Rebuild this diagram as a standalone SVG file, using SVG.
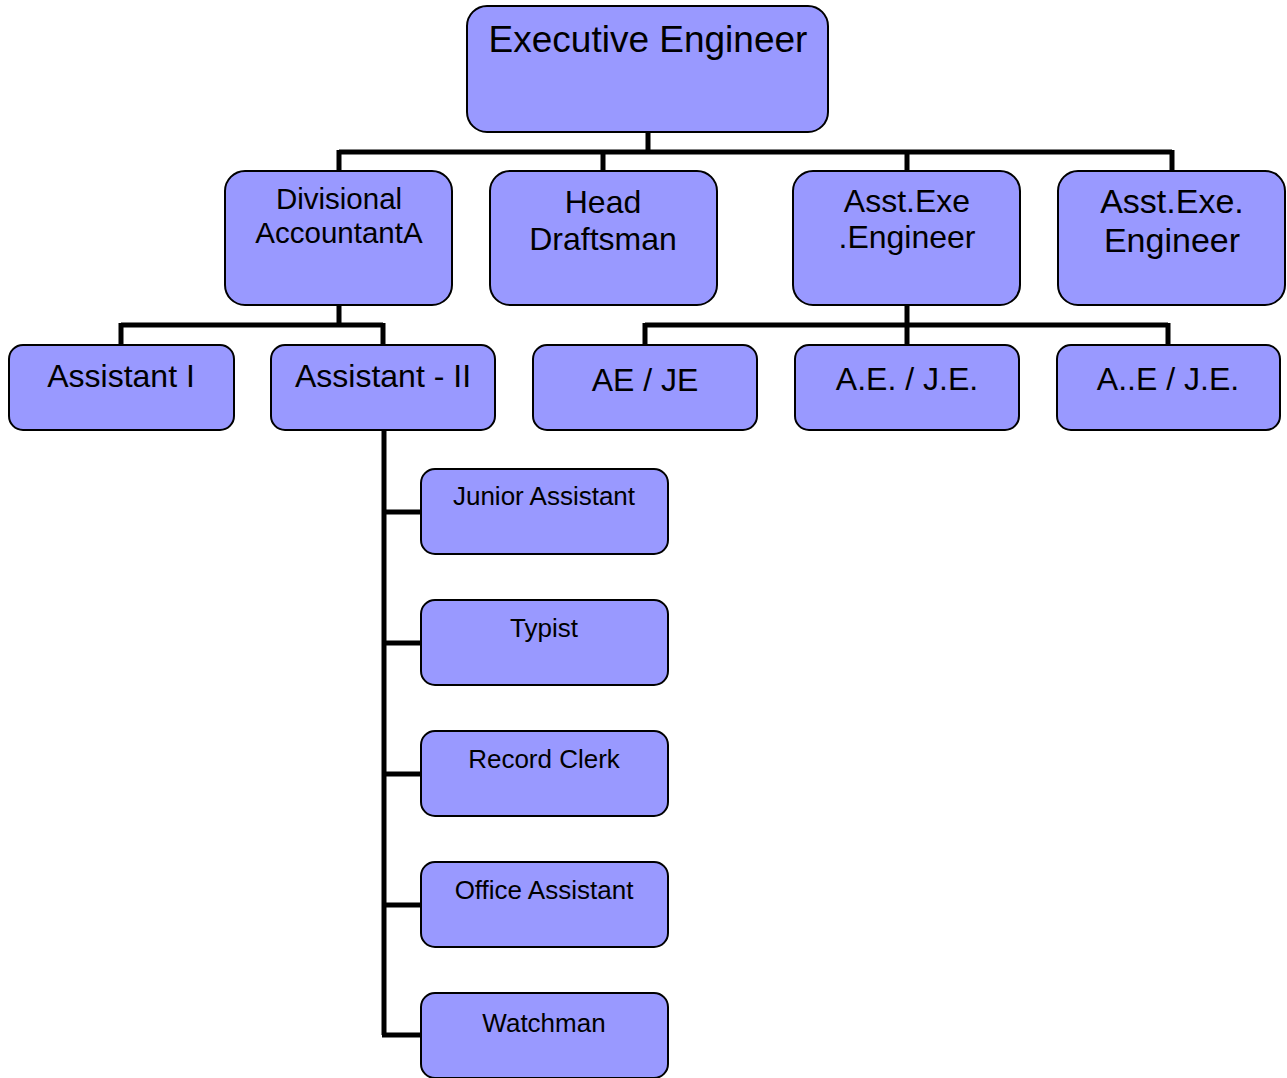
<svg xmlns="http://www.w3.org/2000/svg" width="1287" height="1078" viewBox="0 0 1287 1078">
<style>
.box{fill:#9999FF;stroke:#000;stroke-width:2}
.t{font-family:"Liberation Sans",Arial,sans-serif;fill:#000;text-anchor:middle}
.c{fill:none;stroke:#000;stroke-width:5}
</style>
<rect width="1287" height="1078" fill="#fff"/>
<g id="connectors">
<path class="c" d="M648 132V152M339 152H1172M339 150V171M603 150V171M907 150V171M1172 150V171"/>
<path class="c" d="M339 305V325M121 325H383M121 323V345M383 323V345"/>
<path class="c" d="M907 305V325M645 325H1168M645 323V345M907 323V345M1168 323V345"/>
<path class="c" d="M384 430V1035M382 512H421M382 643H421M382 774H421M382 905H421M382 1035H421"/>
</g>
<g id="exec"><rect class="box" x="467" y="6" width="361" height="126" rx="20"/><text class="t" x="648" y="52" font-size="37">Executive Engineer</text></g>
<g id="divacc"><rect class="box" x="225" y="171" width="227" height="134" rx="20"/><text class="t" x="339" y="209" font-size="29.5">Divisional</text><text class="t" x="339" y="243" font-size="29.5">AccountantA</text></g>
<g id="headdraft"><rect class="box" x="490" y="171" width="227" height="134" rx="20"/><text class="t" x="603" y="213" font-size="32">Head</text><text class="t" x="603" y="250" font-size="32">Draftsman</text></g>
<g id="aee1"><rect class="box" x="793" y="171" width="227" height="134" rx="20"/><text class="t" x="907" y="212" font-size="32">Asst.Exe</text><text class="t" x="907" y="248" font-size="32">.Engineer</text></g>
<g id="aee2"><rect class="box" x="1058" y="171" width="227" height="134" rx="20"/><text class="t" x="1172" y="213" font-size="34">Asst.Exe.</text><text class="t" x="1172" y="252" font-size="34">Engineer</text></g>
<g id="asst1"><rect class="box" x="9" y="345" width="225" height="85" rx="14"/><text class="t" x="121" y="387" font-size="32">Assistant I</text></g>
<g id="asst2"><rect class="box" x="271" y="345" width="224" height="85" rx="14"/><text class="t" x="383" y="387" font-size="32">Assistant - II</text></g>
<g id="aeje1"><rect class="box" x="533" y="345" width="224" height="85" rx="14"/><text class="t" x="645" y="391" font-size="32">AE / JE</text></g>
<g id="aeje2"><rect class="box" x="795" y="345" width="224" height="85" rx="14"/><text class="t" x="907" y="390" font-size="32">A.E. / J.E.</text></g>
<g id="aeje3"><rect class="box" x="1057" y="345" width="223" height="85" rx="14"/><text class="t" x="1168" y="390" font-size="32">A..E / J.E.</text></g>
<g id="junior"><rect class="box" x="421" y="469" width="247" height="85" rx="14"/><text class="t" x="544" y="505" font-size="26">Junior Assistant</text></g>
<g id="typist"><rect class="box" x="421" y="600" width="247" height="85" rx="14"/><text class="t" x="544" y="637" font-size="26">Typist</text></g>
<g id="record"><rect class="box" x="421" y="731" width="247" height="85" rx="14"/><text class="t" x="544" y="768" font-size="26">Record Clerk</text></g>
<g id="office"><rect class="box" x="421" y="862" width="247" height="85" rx="14"/><text class="t" x="544" y="899" font-size="26">Office Assistant</text></g>
<g id="watchman"><rect class="box" x="421" y="993" width="247" height="85" rx="14"/><text class="t" x="544" y="1032" font-size="26">Watchman</text></g>
</svg>
